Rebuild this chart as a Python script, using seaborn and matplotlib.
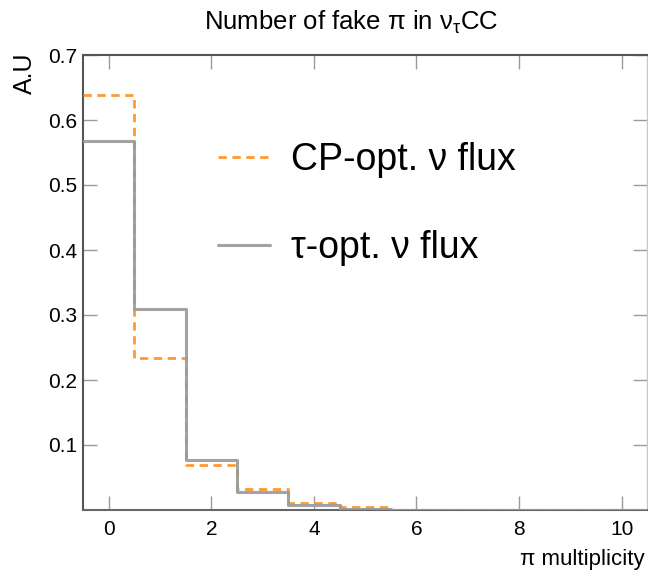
import numpy as np
import pandas as pd
import matplotlib
matplotlib.use("Agg")
import matplotlib.pyplot as plt
import seaborn as sns

# ---- data ----
multiplicity = [0, 1, 2, 3, 4, 5, 6, 7, 8, 9, 10]
cp_opt = [0.638, 0.234, 0.070, 0.033, 0.011, 0.004, 0.0006, 0.0003, 0.0002, 0.0001, 0.0001]
tau_opt = [0.568, 0.309, 0.077, 0.028, 0.007, 0.002, 0.0005, 0.0002, 0.0001, 0.0001, 0.0001]
labels = ["CP-opt. ν flux", "τ-opt. ν flux"]
xticks = [0, 2, 4, 6, 8, 10]
yticks = [0.1, 0.2, 0.3, 0.4, 0.5, 0.6, 0.7]

sns.set_theme(style="white")
plt.rcParams["font.family"] = ["Liberation Sans", "DejaVu Sans"]
plt.rcParams["text.color"] = "black"
plt.rcParams["axes.labelcolor"] = "black"
plt.rcParams["mathtext.fontset"] = "custom"
plt.rcParams["mathtext.rm"] = "Liberation Sans"
plt.rcParams["mathtext.it"] = "Liberation Sans"

fig = plt.figure(figsize=(6.48, 5.79), dpi=100)
ax = fig.add_axes([83 / 648, 1 - 510 / 579, 1 - 83 / 648 - 0.001, (510 - 55) / 579])

df_cp = pd.DataFrame({"x": multiplicity, "w": cp_opt})
df_tau = pd.DataFrame({"x": multiplicity, "w": tau_opt})

sns.histplot(data=df_cp, x="x", weights="w", binwidth=1, binrange=(-0.5, 10.5),
             element="step", fill=False, color="#FF9933", linewidth=2.0,
             linestyle=(0, (3, 2)), label=labels[0], ax=ax, zorder=3)
sns.histplot(data=df_tau, x="x", weights="w", binwidth=1, binrange=(-0.5, 10.5),
             element="step", fill=False, color="#999999", linewidth=2.2,
             label=labels[1], ax=ax, zorder=4, alpha=0.9)

ax.set_xlim(-0.5, 10.5)
ax.set_ylim(0, 0.7)
ax.set_xticks(xticks)
ax.set_yticks(yticks)
ax.set_yticklabels([f"{v:.1f}" for v in yticks])
ax.tick_params(direction="in", length=10, width=1, color="#9a9a9a",
               top=True, right=True, bottom=True, left=True,
               labelsize=15, labelcolor="black")
ax.tick_params(axis="x", pad=7)
ax.tick_params(axis="y", pad=4)

for side, col, lw in [("top", "#555555", 1.5), ("left", "#555555", 1.5),
                      ("bottom", "#666666", 1.5), ("right", "#c8c8c8", 1.0)]:
    ax.spines[side].set_color(col)
    ax.spines[side].set_linewidth(lw)
    ax.spines[side].set_visible(True)

ax.set_xlabel("")
ax.set_ylabel("")
fig.text(645 / 648, 1 - 560 / 579, "π multiplicity", ha="right", va="center",
         fontsize=16, color="black")
fig.text(25 / 648, 1 - 52 / 579, "A.U", ha="center", va="top", rotation=90,
         fontsize=18, color="black")
fig.text(351 / 648, 1 - 22 / 579, r"Number of fake π in ν$_{\mathrm{τ}}$CC",
         ha="center", va="center", fontsize=18.5, color="black")

leg = ax.legend(loc="upper left", bbox_to_anchor=(218 / 648, 1 - 142 / 579),
                bbox_transform=fig.transFigure, frameon=False, fontsize=27,
                borderpad=0, borderaxespad=0, labelcolor="black",
                handlelength=1.39, handletextpad=0.56, labelspacing=1.39)

fig.savefig("out.png", dpi=100)
